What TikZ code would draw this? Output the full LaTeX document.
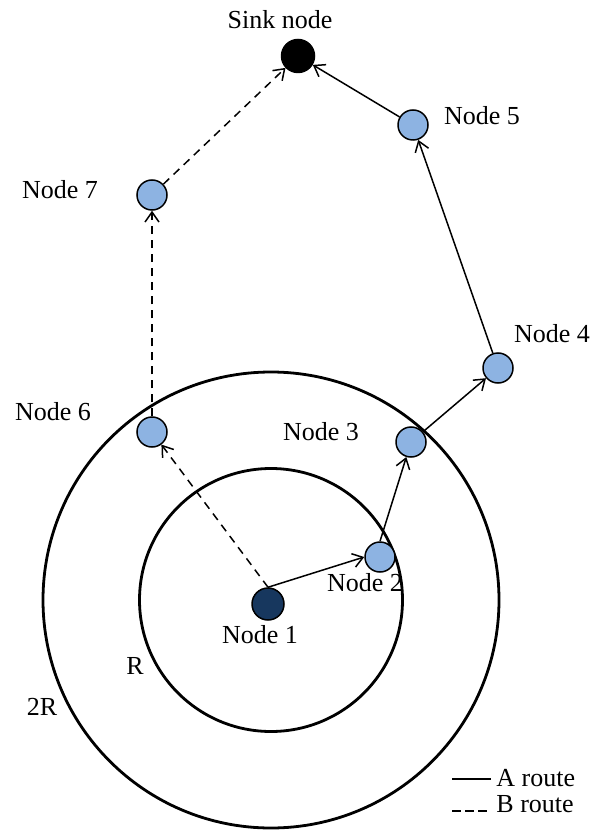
\documentclass[tikz,border=0pt]{standalone}
\usepackage{fontspec}
\setmainfont{Liberation Serif}
\usetikzlibrary{arrows.meta}
\definecolor{nodeblue}{HTML}{8DB3E2}
\definecolor{nodenavy}{HTML}{17375E}
\begin{document}
\begin{tikzpicture}[x=0.5pt,y=-0.5pt,
  sensor/.style={circle,draw=black,line width=0.75pt,fill=nodeblue,minimum size=15pt,inner sep=0pt},
  lbl/.style={font=\fontsize{13pt}{15pt}\selectfont,inner sep=0pt},
  aroute/.style={line width=0.75pt,-{Straight Barb[length=5pt,width=7pt]}},
  broute/.style={aroute,dash pattern=on 4pt off 3pt},
  ring/.style={draw=black,line width=1.4pt}]
\useasboundingbox (0,0) rectangle (592,839);
% range rings around node 1
\coordinate (c) at (271,600);
\draw[ring] (c) circle (131.5);
\draw[ring] (c) circle (228);
% sensor nodes
\node[sensor,fill=black,minimum size=16.5pt] (sink) at (298,56) {};
\node[sensor] (n5) at (413,125) {};
\node[sensor] (n7) at (152,195) {};
\node[sensor] (n4) at (498,368) {};
\node[sensor] (n6) at (152,432) {};
\node[sensor] (n3) at (411,442) {};
\node[sensor] (n2) at (380,557) {};
\node[sensor,fill=nodenavy,minimum size=16pt] (n1) at (268,604) {};
% labels
\node[lbl] (lsink) at (280,20) {Sink node};
\node[lbl] (l5) at (482,116) {Node 5};
\node[lbl] (l7) at (60,190) {Node 7};
\node[lbl] (l4) at (552,334) {Node 4};
\node[lbl] (l6) at (53,412) {Node 6};
\node[lbl] (l3) at (321,432) {Node 3};
\node[lbl] (l2) at (365,583) {Node 2};
\node[lbl] (l1) at (260,635) {Node 1};
\node[lbl] (lr) at (135,666) {R};
\node[lbl] (l2r) at (42,707) {2R};
% route A
\draw[aroute] (n1.north) -- (n2.west);
\draw[aroute] (n2.north) -- (n3);
\draw[aroute] (n3) -- (n4);
\draw[aroute] (n4) -- (n5);
\draw[aroute] (n5) -- (sink);
% route B
\draw[broute] (n1.north) -- (n6);
\draw[broute] (n6) -- (n7);
\draw[broute] (n7) -- (sink);
% legend
\coordinate (la0) at (452,779);
\coordinate (la1) at (491,779);
\coordinate (lb0) at (452,811);
\coordinate (lb1) at (490,811);
\draw[line width=1.2pt] (la0) -- (la1);
\draw[line width=1.2pt,dash pattern=on 4.5pt off 2pt] (lb0) -- (lb1);
\node[lbl,anchor=west] (lega) at (496,778) {A route};
\node[lbl,anchor=west] (legb) at (496,804) {B route};
\end{tikzpicture}
\end{document}
